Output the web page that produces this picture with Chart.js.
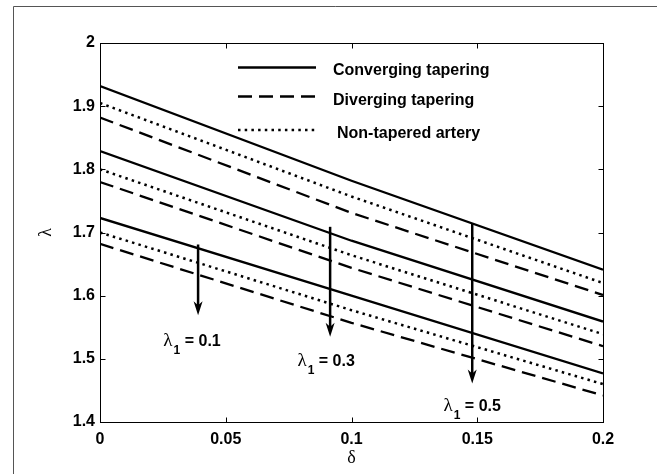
<!DOCTYPE html>
<html>
<head>
<meta charset="utf-8">
<script src="https://cdn.jsdelivr.net/npm/chart.js@4.4.0/dist/chart.umd.min.js"></script>
<style>
html, body { margin: 0; padding: 0; background: #fff; }
</style>
</head>
<body>
<canvas id="myChart" width="657" height="474"></canvas>
<script>
// delta values (x)
const deltas = [0, 0.1, 0.2];

// upper group of curves
const convTop = [1.932, 1.782, 1.641];
const nonTop  = [1.905, 1.757, 1.620];
const divTop  = [1.882, 1.731, 1.601];
// middle group
const convMid = [1.829, 1.687, 1.559];
const nonMid  = [1.800, 1.664, 1.539];
const divMid  = [1.780, 1.644, 1.520];
// lower group
const convLow = [1.723, 1.600, 1.477];
const nonLow  = [1.700, 1.577, 1.460];
const divLow  = [1.682, 1.557, 1.442];

const xTicks = [0, 0.05, 0.1, 0.15, 0.2];
const xTickLabels = ['0', '0.05', '0.1', '0.15', '0.2'];
const yTicks = [1.4, 1.5, 1.6, 1.7, 1.8, 1.9, 2];
const yTickLabels = ['1.4', '1.5', '1.6', '1.7', '1.8', '1.9', '2'];

const legendLabels = ['Converging tapering', 'Diverging tapering', 'Non-tapered artery'];

// arrows: x position, start and end (data units), and lambda_1 labels
const arrowX    = [0.039, 0.0915, 0.148];
const arrowFrom = [1.681, 1.709, 1.714];
const arrowTo   = [1.569, 1.535, 1.461];
const arrowLabels = ['0.1', '0.3', '0.5'];
const labelX = [0.0366, 0.0899, 0.148];
const labelY = [1.530, 1.498, 1.427];

const SOLID = [];
const DASH = [14, 7];
const DOT = [2.5, 4.2];

function pts(ys) {
    return deltas.map((d, i) => ({ x: d, y: ys[i] }));
}
function ds(ys, dash) {
    return {
        data: pts(ys),
        borderColor: '#000',
        borderWidth: dash === DOT ? 2.5 : 2.3,
        borderDash: dash,
        borderCapStyle: 'butt',
        pointRadius: 0,
        fill: false,
        tension: 0
    };
}

const sans = 'Liberation Sans, Arial, sans-serif';
const serif = 'Liberation Serif, Times New Roman, serif';

const extras = {
    id: 'extras',
    beforeDatasetsDraw(chart) {
        const c = chart.ctx;
        const a = chart.chartArea;
        const xs = chart.scales.x, ys = chart.scales.y;
        c.save();
        // outer figure frame (left + top only)
        c.strokeStyle = '#555';
        c.lineWidth = 1;
        c.beginPath();
        c.moveTo(13.5, 474);
        c.lineTo(13.5, 6.5);
        c.lineTo(657, 6.5);
        c.stroke();

        // plot box
        const L = Math.round(a.left) + 0.5, R = Math.round(a.right) + 0.5;
        const T = Math.round(a.top) + 0.5, B = Math.round(a.bottom) + 0.5;
        c.strokeStyle = '#000';
        c.strokeRect(L, T, R - L, B - T);

        // inward ticks on all sides
        c.beginPath();
        xTicks.forEach(v => {
            const px = Math.round(xs.getPixelForValue(v)) + 0.5;
            c.moveTo(px, B); c.lineTo(px, B - 5);
            c.moveTo(px, T); c.lineTo(px, T + 5);
        });
        yTicks.forEach(v => {
            const py = Math.round(ys.getPixelForValue(v)) + 0.5;
            c.moveTo(L, py); c.lineTo(L + 5, py);
            c.moveTo(R, py); c.lineTo(R - 5, py);
        });
        c.stroke();

        // legend
        const legY = [67.5, 96.5, 130];
        const legDash = [SOLID, DASH, DOT];
        const txtX = [333, 333, 337];
        const txtY = [75, 105, 138];
        for (let i = 0; i < 3; i++) {
            c.lineWidth = legDash[i] === DOT ? 2.5 : 2.3;
            c.setLineDash(legDash[i]);
            c.beginPath();
            c.moveTo(238, legY[i]);
            c.lineTo(316, legY[i]);
            c.stroke();
        }
        c.setLineDash([]);
        c.fillStyle = '#000';
        c.font = 'bold 16px ' + sans;
        c.textAlign = 'left';
        c.textBaseline = 'alphabetic';
        for (let i = 0; i < 3; i++) {
            c.fillText(legendLabels[i], txtX[i], txtY[i]);
        }
        c.restore();
    },
    afterDatasetsDraw(chart) {
        const c = chart.ctx;
        const xs = chart.scales.x, ys = chart.scales.y;
        c.save();
        c.strokeStyle = '#000';
        c.fillStyle = '#000';
        for (let i = 0; i < arrowX.length; i++) {
            const px = xs.getPixelForValue(arrowX[i]);
            const y0 = ys.getPixelForValue(arrowFrom[i]);
            const y1 = ys.getPixelForValue(arrowTo[i]);
            c.lineWidth = 2.5;
            c.beginPath();
            c.moveTo(px, y0);
            c.lineTo(px, y1 - 8);
            c.stroke();
            c.beginPath();
            c.moveTo(px, y1);
            c.lineTo(px - 4.5, y1 - 14);
            c.lineTo(px, y1 - 10);
            c.lineTo(px + 4.5, y1 - 14);
            c.closePath();
            c.fill();

            // label  "λ1 = 0.x"
            const cx = xs.getPixelForValue(labelX[i]);
            const cy = ys.getPixelForValue(labelY[i]);
            const base = cy + 6;
            c.font = '19px ' + serif;
            const wl = c.measureText('\u03bb').width;
            c.font = 'bold 12px ' + sans;
            const ws = c.measureText('1').width;
            c.font = 'bold 16px ' + sans;
            const rest = ' = ' + arrowLabels[i];
            const wr = c.measureText(rest).width;
            let x = cx - (wl + ws + 1 + wr) / 2;
            c.textAlign = 'left';
            c.textBaseline = 'alphabetic';
            c.font = '19px ' + serif;
            c.fillText('\u03bb', x, base);
            x += wl + 1;
            c.font = 'bold 12px ' + sans;
            c.fillText('1', x, base + 8);
            x += ws;
            c.font = 'bold 16px ' + sans;
            c.fillText(rest, x, base);
        }
        c.restore();
    }
};

const ctx = document.getElementById('myChart').getContext('2d');
const myChart = new Chart(ctx, {
    type: 'line',
    data: {
        datasets: [
            ds(convTop, SOLID), ds(nonTop, DOT), ds(divTop, DASH),
            ds(convMid, SOLID), ds(nonMid, DOT), ds(divMid, DASH),
            ds(convLow, SOLID), ds(nonLow, DOT), ds(divLow, DASH)
        ]
    },
    options: {
        responsive: false,
        animation: false,
        layout: { padding: { left: 0, top: 43, right: 54, bottom: 0 } },
        plugins: { legend: { display: false }, tooltip: { enabled: false } },
        scales: {
            x: {
                type: 'linear',
                min: 0,
                max: 0.2,
                afterBuildTicks: (s) => { s.ticks = xTicks.map(v => ({ value: v })); },
                afterFit: (s) => { s.height = 52; },
                grid: { display: false, drawTicks: false },
                border: { display: false },
                ticks: {
                    padding: 8,
                    color: '#000',
                    font: { family: sans, size: 16, weight: 'bold' },
                    maxRotation: 0,
                    callback: (v, i) => xTickLabels[i]
                },
                title: {
                    display: true,
                    text: '\u03b4',
                    color: '#000',
                    font: { family: serif, size: 18 },
                    padding: { top: 0, bottom: 5 }
                }
            },
            y: {
                type: 'linear',
                min: 1.4,
                max: 2,
                afterBuildTicks: (s) => { s.ticks = yTicks.map(v => ({ value: v })); },
                afterFit: (s) => { s.width = 100; },
                grid: { display: false, drawTicks: false },
                border: { display: false },
                ticks: {
                    padding: 5,
                    color: '#000',
                    font: { family: sans, size: 16, weight: 'bold' },
                    callback: (v, i) => yTickLabels[i]
                },
                title: {
                    display: true,
                    text: '\u03bb',
                    color: '#000',
                    font: { family: serif, size: 18 },
                    padding: { top: 35, bottom: 0 }
                }
            }
        }
    },
    plugins: [extras]
});
</script>
</body>
</html>
